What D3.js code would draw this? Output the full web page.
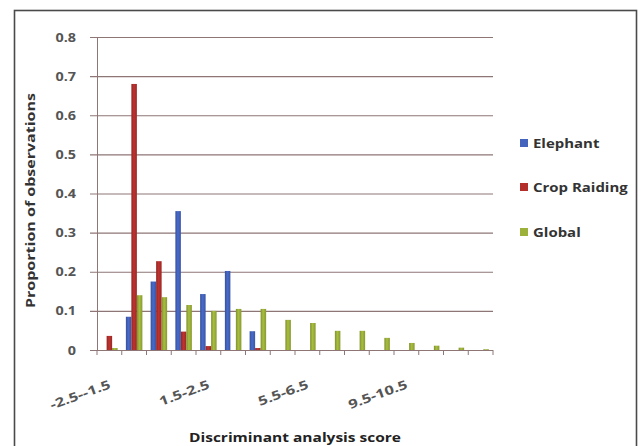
<!DOCTYPE html>
<html>
<head>
<meta charset="utf-8">
<script src="https://cdn.jsdelivr.net/npm/d3@7"></script>
<style>
  html, body { margin: 0; padding: 0; background: #ffffff; }
  svg { display: block; font-family: "Open Sans", Lato, sans-serif; font-weight: bold; }
</style>
</head>
<body>
<svg id="chart" width="643" height="446"></svg>
<script>
// Score bins (discriminant analysis score) and the proportion of observations in each
const categories = [
  "-2.5--1.5", "-1.5--0.5", "-0.5-0.5", "0.5-1.5", "1.5-2.5", "2.5-3.5", "3.5-4.5", "4.5-5.5",
  "5.5-6.5", "6.5-7.5", "7.5-8.5", "8.5-9.5", "9.5-10.5", "10.5-11.5", "11.5-12.5", "12.5-13.5"
];
const tickLabels = ["-2.5--1.5", "1.5-2.5", "5.5-6.5", "9.5-10.5"];
const seriesNames = ["Elephant", "Crop Raiding", "Global"];
const elephant    = [0, 0.085, 0.175, 0.355, 0.143, 0.202, 0.048, 0, 0, 0, 0, 0, 0, 0, 0, 0];
const cropRaiding = [0.036, 0.68, 0.227, 0.047, 0.01, 0, 0.005, 0, 0, 0, 0, 0, 0, 0, 0, 0];
const globalObs   = [0.005, 0.14, 0.135, 0.115, 0.1, 0.105, 0.105, 0.077, 0.069, 0.049, 0.049, 0.031, 0.018, 0.011, 0.006, 0.002];
const yTicks = [0, 0.1, 0.2, 0.3, 0.4, 0.5, 0.6, 0.7, 0.8];
const seriesColors = ["#4363bd", "#b22f2c", "#9cb13a"];

const seriesValues = [elephant, cropRaiding, globalObs];
const table = categories.map((c, i) => ({
  category: c,
  values: seriesNames.map((s, k) => ({ series: s, value: seriesValues[k][i] }))
}));

const svg = d3.select("#chart");
const plot = { left: 97, right: 493, top: 37, bottom: 350 };
const gridColor = "#8e7676";
const fontFamily = "'Open Sans', Lato, sans-serif";

// Outer chart border
svg.append("rect")
  .attr("x", 14.5).attr("y", 10.5).attr("width", 622).attr("height", 460)
  .attr("fill", "#ffffff").attr("stroke", "#4a4a4a").attr("stroke-width", 1.6);

const x0 = d3.scaleBand().domain(categories).range([plot.left, plot.right]).padding(0);
const bw = x0.bandwidth();
// 150% gap: the three bars fill 3/4.5 of each category
const x1 = d3.scaleBand().domain(seriesNames).range([bw * 0.75 / 4.5, bw - bw * 0.75 / 4.5]).padding(0);
const y = d3.scaleLinear().domain([0, 0.8]).range([plot.bottom, plot.top]);
const color = d3.scaleOrdinal().domain(seriesNames).range(seriesColors);

// Horizontal shading on the bars
const defs = svg.append("defs");
seriesNames.forEach((s, k) => {
  const base = d3.color(seriesColors[k]);
  const g = defs.append("linearGradient").attr("id", "grad" + k)
    .attr("x1", "0%").attr("x2", "100%").attr("y1", "0%").attr("y2", "0%");
  g.append("stop").attr("offset", "0%").attr("stop-color", base.darker(0.6));
  g.append("stop").attr("offset", "45%").attr("stop-color", base.brighter(0.2));
  g.append("stop").attr("offset", "100%").attr("stop-color", base.darker(0.4));
});

// Y axis with gridlines
const yAxis = d3.axisLeft(y).tickValues(yTicks)
  .tickFormat(d => d === 0 ? "0" : d3.format(".1f")(d))
  .tickSizeInner(-(plot.right - plot.left)).tickSizeOuter(0).tickPadding(21);
const gy = svg.append("g").attr("transform", `translate(${plot.left},0)`).call(yAxis);
gy.select(".domain").attr("stroke", gridColor).attr("stroke-width", 1);
gy.selectAll(".tick line").attr("x1", -7).attr("stroke", gridColor).attr("stroke-width", 1.2);
gy.selectAll(".tick text")
  .attr("fill", "#555555").style("font-size", "12.5px").style("font-weight", "bold")
  .style("font-family", fontFamily);

// Bars
const groups = svg.append("g").selectAll("g").data(table).join("g")
  .attr("transform", d => `translate(${x0(d.category)},0)`);
groups.selectAll("rect").data(d => d.values).join("rect")
  .attr("x", d => x1(d.series))
  .attr("width", x1.bandwidth())
  .attr("y", d => y(d.value))
  .attr("height", d => y(0) - y(d.value))
  .attr("fill", d => `url(#grad${seriesNames.indexOf(d.series)})`);

// X axis: labels on every fourth bin, tick marks at bin boundaries
const xAxis = d3.axisBottom(x0).tickValues(tickLabels).tickSize(0).tickPadding(0);
const gx = svg.append("g").attr("transform", `translate(0,${plot.bottom})`).call(xAxis);
gx.select(".domain").remove();
gx.selectAll(".tick text")
  .attr("y", 0).attr("dy", 0)
  .attr("text-anchor", "end")
  .attr("transform", "translate(2,38) rotate(-20)")
  .attr("fill", "#555555").style("font-size", "12.5px").style("font-weight", "bold")
  .style("font-family", fontFamily);

svg.append("line")
  .attr("x1", plot.left).attr("x2", plot.right)
  .attr("y1", plot.bottom + 0.5).attr("y2", plot.bottom + 0.5)
  .attr("stroke", gridColor).attr("stroke-width", 1.2);
const boundaries = categories.map(c => x0(c)).concat([plot.right]);
svg.append("g").selectAll("line").data(boundaries).join("line")
  .attr("x1", d => d).attr("x2", d => d)
  .attr("y1", plot.bottom).attr("y2", plot.bottom + 5)
  .attr("stroke", gridColor).attr("stroke-width", 1);

// Widen text horizontally
function stretch(sel, k) {
  sel.each(function () {
    const w = this.getComputedTextLength();
    d3.select(this).attr("textLength", w * k).attr("lengthAdjust", "spacingAndGlyphs");
  });
}
stretch(gy.selectAll(".tick text"), 1.15);
stretch(gx.selectAll(".tick text"), 1.32);

// Axis titles
svg.append("text")
  .attr("transform", `translate(35,${(plot.top + plot.bottom) / 2 + 7}) rotate(-90)`)
  .attr("text-anchor", "middle")
  .attr("fill", "#333333").style("font-size", "12.5px")
  .attr("textLength", 215).attr("lengthAdjust", "spacingAndGlyphs")
  .text("Proportion of observations");

svg.append("text")
  .attr("x", (plot.left + plot.right) / 2).attr("y", 442)
  .attr("text-anchor", "middle")
  .attr("fill", "#222222").style("font-size", "12.5px")
  .attr("textLength", 212).attr("lengthAdjust", "spacingAndGlyphs")
  .text("Discriminant analysis score");

// Legend
const legendRows = [143, 187, 232];
const legend = svg.append("g").selectAll("g").data(seriesNames).join("g")
  .attr("transform", (d, i) => `translate(520,${legendRows[i]})`);
legend.append("rect")
  .attr("x", 0).attr("y", -4).attr("width", 8).attr("height", 8)
  .attr("fill", d => color(d));
const legendText = legend.append("text")
  .attr("x", 13).attr("y", 4.5)
  .attr("fill", "#333333").style("font-size", "13px")
  .text(d => d);
stretch(legendText, 1.15);
</script>
</body>
</html>
